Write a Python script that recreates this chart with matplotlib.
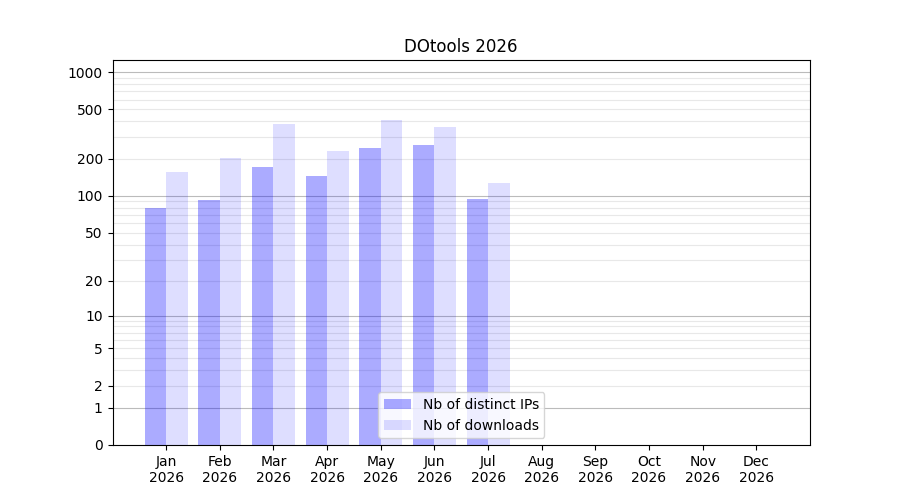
import numpy as np
import matplotlib
matplotlib.use("Agg")
import matplotlib.pyplot as plt

months = ["Jan", "Feb", "Mar", "Apr", "May", "Jun", "Jul", "Aug", "Sep", "Oct", "Nov", "Dec"]
year = 2026
distinct_ips = [79, 92, 170, 144, 243, 258, 95, 0, 0, 0, 0, 0]
downloads = [155, 201, 380, 230, 410, 360, 126, 0, 0, 0, 0, 0]
y_ticks = [0, 1, 2, 5, 10, 20, 50, 100, 200, 500, 1000]


def fwd(v):
    return np.log10(1 + np.asarray(v, dtype=float))


def inv(v):
    return 10 ** np.asarray(v, dtype=float) - 1


fig, ax = plt.subplots(figsize=(9, 5), dpi=100)
ax.set_yscale("function", functions=(fwd, inv))

# grid: darker at decades, light elsewhere
for dec in [1, 10, 100]:
    for k in range(2, 10):
        ax.axhline(dec * k, color="#e8e8e8", linewidth=0.8, zorder=0)
for v in [1, 10, 100, 1000]:
    ax.axhline(v, color="#bbbbbb", linewidth=0.8, zorder=0)

x = np.arange(len(months))
w = 0.4
ax.bar(x - w / 2, distinct_ips, width=w, color="blue", alpha=0.33, label="Nb of distinct IPs", zorder=2)
ax.bar(x + w / 2, downloads, width=w, color="blue", alpha=0.13, label="Nb of downloads", zorder=2)

ax.set_xticks(x)
ax.set_xticklabels([f"{m}\n{year}" for m in months])
ax.set_xlim(-1, 12)
ax.set_yticks(y_ticks)
ax.set_yticklabels([str(t) for t in y_ticks])
ax.yaxis.set_minor_locator(matplotlib.ticker.NullLocator())
ax.set_ylim(0, 1250)
ax.set_title(f"DOtools {year}")
ax.legend(loc="lower center")

fig.savefig("out.png", dpi=100)
